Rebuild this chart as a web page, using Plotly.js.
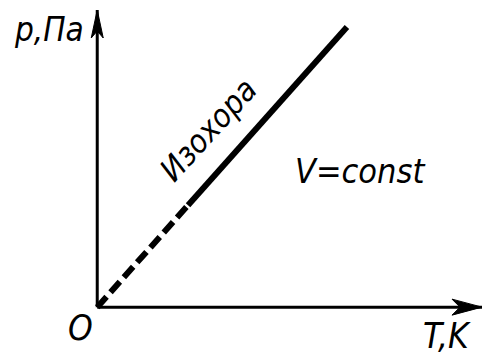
<!DOCTYPE html>
<html>
<head>
<meta charset="utf-8">
<script src="https://cdn.plot.ly/plotly-3.0.1.min.js"></script>
<style>html,body{margin:0;padding:0;background:#fff;}#chart{width:484px;height:359px;}</style>
</head>
<body>
<div id="chart"></div>
<script>
// Isochore p ~ T (dashed near origin, solid beyond)
const T_dashed = [0, 2.36];
const p_dashed = [0, 3.43];
const T_solid = [2.36, 6.49];
const p_solid = [3.43, 9.43];

const xLabel = "T,K";
const yLabel = "p,Па";
const originLabel = "O";
const curveLabel = "Изохора";
const conditionLabel = "V=const";

const FONT = "DejaVu Sans Condensed, DejaVu Sans, sans-serif";

const traces = [
  {x: T_dashed, y: p_dashed, mode: "lines", line: {color: "#000", width: 6, dash: "14px,6px"}, hoverinfo: "skip", cliponaxis: false},
  {x: T_solid, y: p_solid, mode: "lines", line: {color: "#000", width: 6}, hoverinfo: "skip", cliponaxis: false}
];

const ann = (x, y, text, size, extra) => Object.assign({
  x: x, y: y, xref: "x", yref: "y", text: "<i>" + text + "</i>", showarrow: false,
  font: {family: FONT, size: size, color: "#000"}
}, extra || {});

const layout = {
  width: 484, height: 359,
  margin: {l: 78, r: 2, t: 10, b: 37},
  paper_bgcolor: "#fff", plot_bgcolor: "#fff",
  showlegend: false,
  xaxis: {range: [-0.5, 10], visible: false, fixedrange: true},
  yaxis: {range: [-0.5, 10], visible: false, fixedrange: true},
  shapes: [
    {type: "line", x0: 0, y0: 0, x1: 10, y1: 0, xref: "x", yref: "y", line: {color: "#000", width: 3}},
    {type: "line", x0: 0, y0: 0, x1: 0, y1: 10, xref: "x", yref: "y", line: {color: "#000", width: 3}},
    {type: "path", xref: "x", yref: "y", xsizemode: "pixel", ysizemode: "pixel", xanchor: 10, yanchor: 0,
     path: "M0,0 L-30,8 L-22,0 L-30,-8 Z", fillcolor: "#000", line: {color: "#000", width: 1}},
    {type: "path", xref: "x", yref: "y", xsizemode: "pixel", ysizemode: "pixel", xanchor: 0, yanchor: 10,
     path: "M0,0 L6,-28 L0,-21 L-6,-28 Z", fillcolor: "#000", line: {color: "#000", width: 1}}
  ],
  annotations: [
    ann(-0.3, 9.36, yLabel, 33, {xanchor: "right", yanchor: "middle"}),
    ann(-0.44, -0.02, originLabel, 35, {yref: "paper", xanchor: "center", yanchor: "middle"}),
    ann(9.1, -0.045, xLabel, 35, {yref: "paper", xanchor: "center", yanchor: "middle"}),
    ann(6.83, 4.58, conditionLabel, 34, {xanchor: "center", yanchor: "middle"}),
    ann(2.88, 5.96, curveLabel, 32, {xanchor: "center", yanchor: "middle", textangle: -47.5})
  ]
};

Plotly.newPlot("chart", traces, layout, {staticPlot: true, displayModeBar: false});
</script>
</body>
</html>
